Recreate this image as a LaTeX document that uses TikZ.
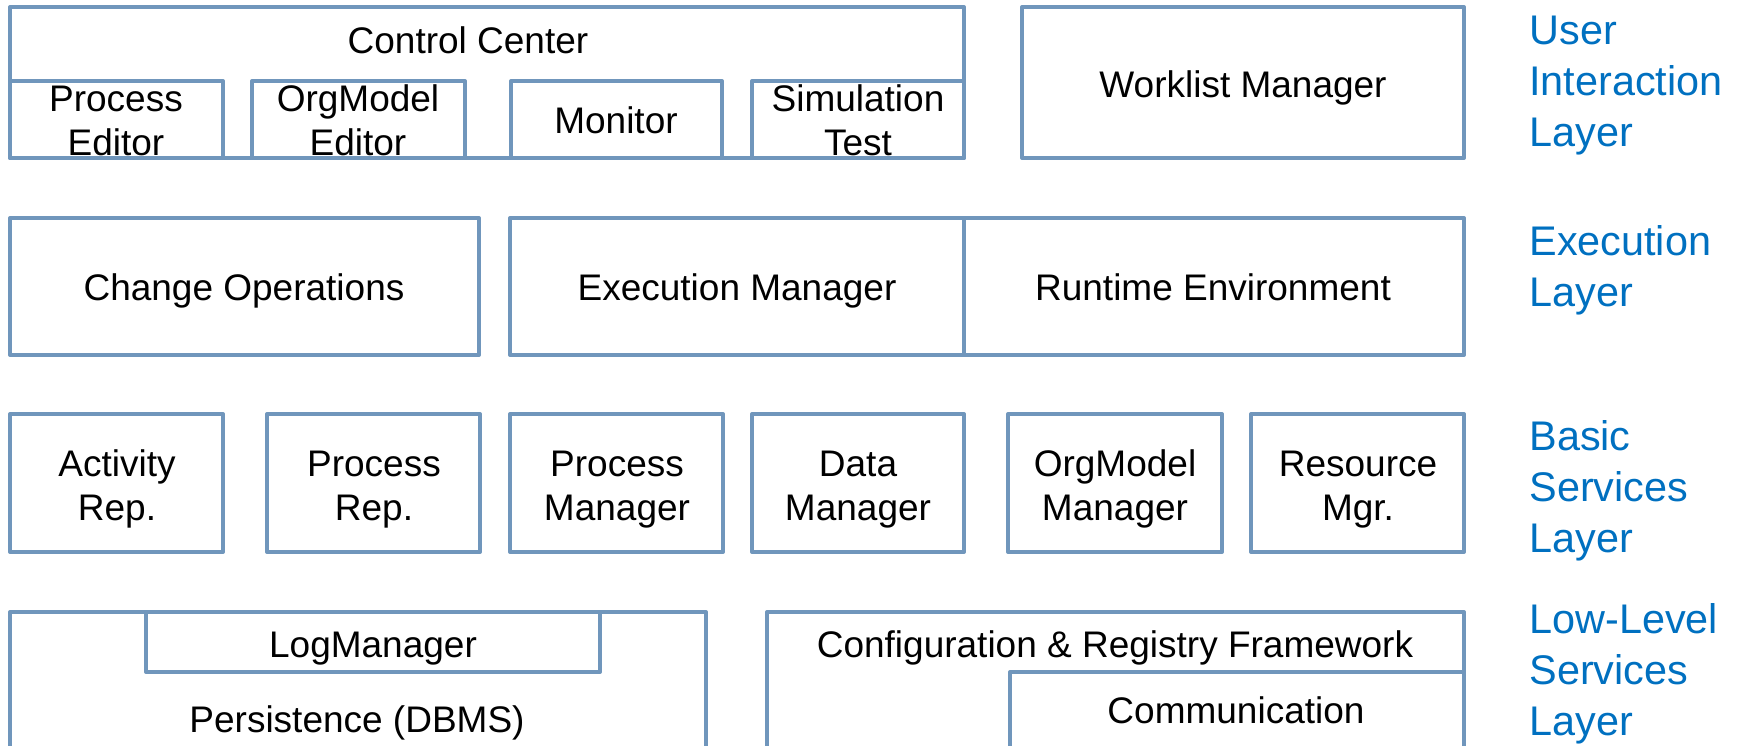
\documentclass[tikz,border=0pt]{standalone}
\usepackage{fontspec}
\setmainfont{Liberation Sans}
\definecolor{frameblue}{RGB}{112,150,188}
\definecolor{layerblue}{RGB}{0,112,192}
\tikzset{
  frame/.style={draw=frameblue, line width=2pt, line join=round},
  label/.style={font=\fontsize{18.5}{22}\selectfont, text=black, inner sep=0pt, anchor=base, align=center},
  layer/.style={font=\fontsize{20.7}{25.3}\selectfont, text=layerblue, inner sep=0pt, anchor=base west, align=left}
}
\begin{document}
\begin{tikzpicture}[x=0.5pt, y=-0.5pt]
\useasboundingbox (0,0) rectangle (1740,745);
\clip (0,0) rectangle (1740,745);

% --- User interaction layer ---
\draw[frame] (10,7) rectangle (964,158);
\draw[frame] (10,81) rectangle (223,158);
\draw[frame] (252,81) rectangle (465,158);
\draw[frame] (511,81) rectangle (722,158);
\draw[frame] (752,81) rectangle (964,158);
\draw[frame] (1022,7) rectangle (1464,158);
\node[label] (cc) at (468,53) {Control Center};
\node[label] (pe) at (116,155) {Process\\Editor};
\node[label] (oe) at (358,155) {OrgModel\\Editor};
\node[label] (mon) at (616,133) {Monitor};
\node[label] (sim) at (858,155) {Simulation\\Test};
\node[label] (wl) at (1243,97) {Worklist Manager};

% --- Execution layer ---
\draw[frame] (10,218) rectangle (479,355);
\draw[frame] (510,218) rectangle (964,355);
\draw[frame] (964,218) rectangle (1464,355);
\node[label] (co) at (244,300) {Change Operations};
\node[label] (em) at (737,300) {Execution Manager};
\node[label] (re) at (1213,300) {Runtime Environment};

% --- Basic services layer ---
\draw[frame] (10,414) rectangle (223,552);
\draw[frame] (267,414) rectangle (480,552);
\draw[frame] (510,414) rectangle (723,552);
\draw[frame] (752,414) rectangle (964,552);
\draw[frame] (1008,414) rectangle (1222,552);
\draw[frame] (1251,414) rectangle (1464,552);
\node[label] (ar) at (117,520) {Activity\\Rep.};
\node[label] (pr) at (374,520) {Process\\Rep.};
\node[label] (pm) at (617,520) {Process\\Manager};
\node[label] (dm) at (858,520) {Data\\Manager};
\node[label] (om) at (1115,520) {OrgModel\\Manager};
\node[label] (rm) at (1358,520) {Resource\\Mgr.};

% --- Low-level services layer ---
\draw[frame] (10,780) -- (10,612) -- (706,612) -- (706,780);
\draw[frame] (146,612) rectangle (600,672);
\draw[frame] (767,780) -- (767,612) -- (1464,612) -- (1464,780);
\draw[frame] (1010,780) -- (1010,672) -- (1464,672);
\node[label] (log) at (373,657) {LogManager};
\node[label] (pers) at (357,732) {Persistence (DBMS)};
\node[label] (cfg) at (1115,657) {Configuration \& Registry Framework};
\node[label] (comm) at (1236,723) {Communication};

% --- Layer captions ---
\node[layer] (l1) at (1529,146) {User\\Interaction\\Layer};
\node[layer] (l2) at (1529,306) {Execution\\Layer};
\node[layer] (l3) at (1529,552) {Basic\\Services\\Layer};
\node[layer] (l4) at (1529,735) {Low-Level\\Services\\Layer};
\end{tikzpicture}
\end{document}
